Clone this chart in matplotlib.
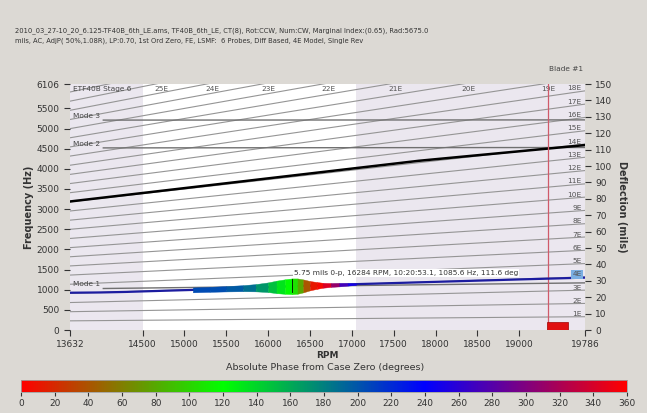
import numpy as np
import matplotlib.pyplot as plt
from matplotlib.colors import LinearSegmentedColormap

# --- data ---
title_lines = [
    "2010_03_27-10_20_6.125-TF40B_6th_LE.ams, TF40B_6th_LE, CT(8), Rot:CCW, Num:CW, Marginal Index:(0.65), Rad:5675.0",
    "mils, AC, AdjP( 50%,1.08R), LP:0.70, 1st Ord Zero, FE, LSMF:  6 Probes, Diff Based, 4E Model, Single Rev",
]
rpm_min, rpm_max = 13632, 19786
freq_max = 6106
x_ticks = [13632, 14500, 15000, 15500, 16000, 16500, 17000, 17500, 18000, 18500, 19000, 19786]
y_ticks = [0, 500, 1000, 1500, 2000, 2500, 3000, 3500, 4000, 4500, 5000, 5500, 6106]
defl_ticks = list(range(0, 151, 10))
orders = list(range(1, 27))

# shaded speed bands
band_edges = [13632, 14500, 17050, 19786]

# blade modes (Hz at start / end of the drawn line)
mode_names = ["Mode 1", "Mode 2", "Mode 3"]
mode_start_rpm = [14030, 14030, 14030]
mode_hz_start = [1030, 4520, 5210]
mode_hz_end = [1170, 4530, 5215]

# thick black curve
black_rpm = [13632, 15200, 17800, 19786]
black_hz = [3190, 3570, 4200, 4590]

# blue tracked response line
blue_rpm = [13632, 14000, 14300, 14500, 15100, 15800, 16284, 17000, 17500, 18000, 18500, 19000, 19786]
blue_hz = [925, 932, 945, 958, 995, 1045, 1085, 1135, 1165, 1195, 1225, 1255, 1300]

# response amplitude blob (half width in Hz) and phase (deg)
blob_rpm = [15100, 15300, 15500, 15700, 15850, 16000, 16100, 16200, 16284, 16350, 16420,
            16500, 16580, 16650, 16750, 16850, 16950, 17050]
blob_half = [60, 62, 66, 75, 90, 120, 155, 180, 195, 190, 160, 115, 85, 62, 48, 42, 30, 18]
blob_phase = [205, 205, 200, 195, 180, 160, 140, 125, 112, 100, 60, 20, 5, 355, 330, 290, 255, 245]

cursor_rpm, cursor_hz = 16284, 1085.6
cursor_text = "5.75 mils 0-p, 16284 RPM, 10:20:53.1, 1085.6 Hz, 111.6 deg"
marker_rpm = 19343
red_box_rpm = [19335, 19578]
red_box_hz = 210

cbar_ticks = list(range(0, 361, 20))

bg = "#dcd9d4"
lav = "#ebe7ef"
phase_cmap = LinearSegmentedColormap.from_list(
    "phase", [(0, "#ff0000"), (1 / 3, "#00ff00"), (2 / 3, "#0000ff"), (1, "#ff0000")])

fig = plt.figure(figsize=(6.47, 4.13), dpi=100, facecolor=bg)

# header text
fig.text(15 / 647, 1 - 31 / 413, title_lines[0], fontsize=4.9, color="#333333", va="center")
fig.text(15 / 647, 1 - 41 / 413, title_lines[1], fontsize=4.9, color="#333333", va="center")

ax = fig.add_axes([70 / 647, 1 - 330 / 413, 515 / 647, 246 / 413])
ax.set_xlim(rpm_min, rpm_max)
ax.set_ylim(0, freq_max)
ax.set_facecolor("white")

# background bands
for i in range(len(band_edges) - 1):
    col = "white" if i == 1 else lav
    ax.axvspan(band_edges[i], band_edges[i + 1], color=col, zorder=0, lw=0)

# engine order lines and their labels
rpm_line = np.array([rpm_min, rpm_max])
for n in orders:
    ax.plot(rpm_line, n * rpm_line / 60.0, color="#959595", lw=0.8, zorder=1)
    top_rpm = freq_max * 60.0 / n
    if top_rpm < rpm_max and n <= 25:
        ax.text(top_rpm + 70, freq_max - 40, f"{n}E", fontsize=5.3, color="#555555",
                ha="center", va="top", zorder=3)
    elif top_rpm >= rpm_max:
        hz = n * rpm_max / 60.0
        box = dict(boxstyle="square,pad=0.15", fc="#7aaee2", ec="none") if n == 4 else None
        ax.text(rpm_max - 40, hz + 60, f"{n}E", fontsize=5.3, color="#555555",
                ha="right", va="center", zorder=9, bbox=box)

ax.text(rpm_min + 40, freq_max - 40, "ETF40B Stage 6", fontsize=5.3, color="#444444",
        ha="left", va="top", zorder=3)

# modes
for name, r0, h0, h1 in zip(mode_names, mode_start_rpm, mode_hz_start, mode_hz_end):
    ax.plot([r0, rpm_max], [h0, h1], color="#707070", lw=1.0, zorder=2)
    ax.text(rpm_min + 40, h0 + 30, name, fontsize=5.3, color="#444444", ha="left", va="bottom", zorder=3)

# black curve
ax.plot(black_rpm, black_hz, color="black", lw=1.8, zorder=4)

# red marker line and box
ax.axvline(marker_rpm, color="#d05a6a", lw=0.9, zorder=4)
ax.bar((red_box_rpm[0] + red_box_rpm[1]) / 2, red_box_hz, width=red_box_rpm[1] - red_box_rpm[0],
       color="#e01010", edgecolor="#a00000", lw=0.5, zorder=5)

# blue response line
ax.plot(blue_rpm, blue_hz, color="#1c1ca0", lw=1.6, zorder=5)

# phase-coloured amplitude blob
centre = np.interp(blob_rpm, blue_rpm, blue_hz)
for i in range(len(blob_rpm) - 1):
    ph = (blob_phase[i] + blob_phase[i + 1]) / 2.0
    if abs(blob_phase[i] - blob_phase[i + 1]) > 180:
        ph = blob_phase[i]
    ax.fill_between(blob_rpm[i:i + 2],
                    [centre[i] - blob_half[i], centre[i + 1] - blob_half[i + 1]],
                    [centre[i] + blob_half[i], centre[i + 1] + blob_half[i + 1]],
                    color=phase_cmap(ph / 360.0), lw=0.3, zorder=6)

# cursor
ax.plot([cursor_rpm, cursor_rpm], [cursor_hz - 150, cursor_hz + 190], color="black", lw=0.6, zorder=7)
ax.text(cursor_rpm + 20, cursor_hz + 260, cursor_text, fontsize=5.3, color="#333333",
        ha="left", va="bottom", zorder=7,
        bbox=dict(boxstyle="square,pad=0.15", fc="white", ec="none"))

# axes styling
for s in ax.spines.values():
    s.set_visible(False)
ax.set_xticks(x_ticks)
ax.set_xticklabels([str(t) for t in x_ticks])
ax.set_yticks(y_ticks)
ax.set_yticklabels([str(t) for t in y_ticks])
ax.tick_params(axis="both", labelsize=6.5, colors="#333333", length=4, width=0.8, direction="out")
ax.set_xlabel("RPM", fontsize=6.5, fontweight="bold", color="#333333", labelpad=1)
ax.set_ylabel("Frequency (Hz)", fontsize=7, fontweight="bold", color="#333333", labelpad=2)

ax2 = ax.twinx()
ax2.set_ylim(0, 150)
ax2.set_yticks(defl_ticks)
for s in ax2.spines.values():
    s.set_visible(False)
ax2.tick_params(axis="y", labelsize=6.5, colors="#333333", length=4, width=0.8, direction="out")
ax2.set_ylabel("Deflection (mils)", fontsize=7, fontweight="bold", color="#333333",
               rotation=270, labelpad=10)

fig.text(566 / 647, 1 - 69 / 413, "Blade #1", fontsize=5.3, color="#444444", ha="center", va="center")
fig.text(325 / 647, 1 - 367 / 413, "Absolute Phase from Case Zero (degrees)", fontsize=6.8,
         color="#333333", ha="center", va="center")

# phase colour bar
cax = fig.add_axes([21 / 647, 1 - 392 / 413, 606 / 647, 12 / 413])
grad = np.linspace(0, 360, 512).reshape(1, -1)
cax.imshow(grad, aspect="auto", cmap=phase_cmap, extent=[0, 360, 0, 1], vmin=0, vmax=360)
cax.set_xlim(0, 360)
cax.set_yticks([])
cax.set_xticks(cbar_ticks)
cax.tick_params(axis="x", labelsize=6.5, colors="#333333", length=3, width=0.8, pad=2)
for s in cax.spines.values():
    s.set_color("#a0a0a0")
    s.set_linewidth(0.6)

fig.savefig("out.png", dpi=100, facecolor=bg)
